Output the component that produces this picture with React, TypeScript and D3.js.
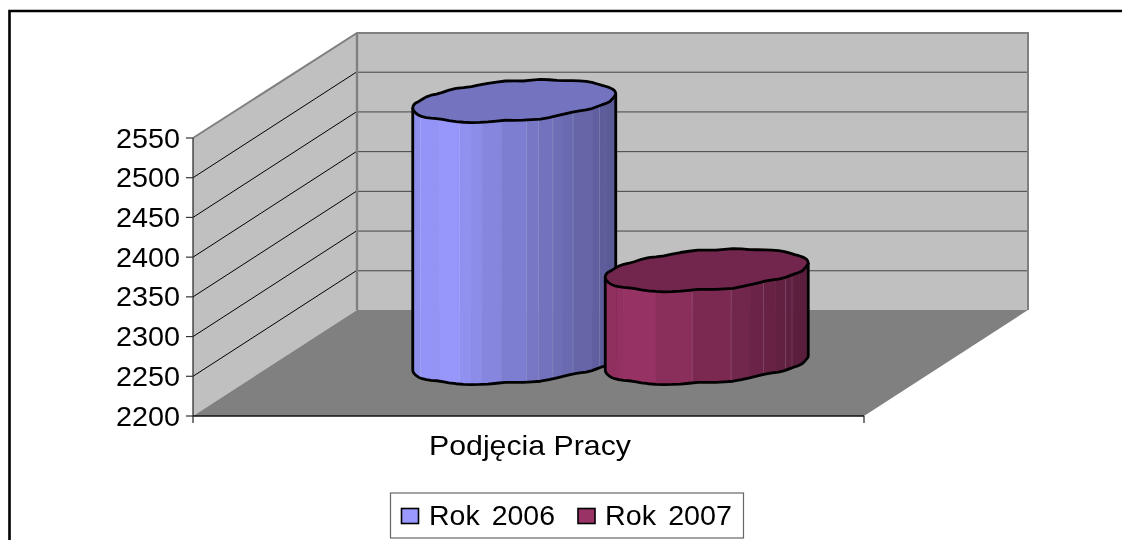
import React from "react";
import * as d3 from "d3";

const categories = ["Podjęcia Pracy"];
const seriesNames = ["Rok 2006", "Rok 2007"];
const seriesValues = [2530, 2317];
const seriesColors = ["#9999FF", "#993366"];
const yTicks = [2200, 2250, 2300, 2350, 2400, 2450, 2500, 2550];
const facetStops = [
  [0, 0.038, 0.13, 0.23, 0.29, 0.345, 0.44, 0.56, 0.62, 0.69, 0.74, 0.79, 0.886, 0.92, 0.955, 1],
  [0, 0.056, 0.089, 0.127, 0.25, 0.428, 0.62, 0.71, 0.78, 0.84, 0.888, 0.92, 0.955, 1],
];
// small irregularities of the rim outline, in px, along the sweep from left to right
const lowerRimNudge = [0, 0.4, 1.2, 0.6, -0.6, 0.4, 0.9, 0.2, -1.0, 0.2, 1.0, -0.4, -1.2, 0.4, -0.2, 0.8, -0.8, 0];
const upperRimNudge = [0, -0.2, 0.8, -0.4, 0.8, -0.5, 0.9, -0.2, -0.8, 0.5, -0.6, 0.6, -0.2, -0.7, 0.6, 0.2, -0.3, 0];
const seamStops = [0.038, 0.23, 0.56, 0.69, 0.79, 0.92, 0.428, 0.62, 0.78, 0.888];

const W = 1122, H = 540;
const front = { left: 193, right: 864, bottom: 416, top: 138 };
const depth = { dx: 164, dy: 106 };
const rim = { halfW: 101.5, b: 19.8, shear: 7 };

const y = d3.scaleLinear().domain([2200, 2550]).range([front.bottom, front.top]);
const xCat = d3.scaleBand().domain(categories).range([front.left + depth.dx / 2, front.right + depth.dx / 2]);
const xSeries = d3.scalePoint().domain(seriesNames).range([
  xCat(categories[0])! + xCat.bandwidth() / 2 - 96.25,
  xCat(categories[0])! + xCat.bandwidth() / 2 + 96.25,
]);
const shade = d3.scaleLinear().domain([0, 0.15, 0.5, 1]).range([0.92, 1, 0.82, 0.58]);
const line = d3.line();

const nudgeScale = (arr: number[]) =>
  d3.scaleLinear().domain(arr.map((_, i) => i / (arr.length - 1))).range(arr);
const lowerNudge = nudgeScale(lowerRimNudge);
const upperNudge = nudgeScale(upperRimNudge);

const scaled = (c: string, k: number) => {
  const r = d3.rgb(c);
  return d3.rgb(r.r * k, r.g * k, r.b * k).formatHex();
};

function rimPoint(cx: number, cy: number, f: number, side: 1 | -1): [number, number] {
  const s = 2 * Math.sqrt(Math.max(0, f * (1 - f)));
  const sweep = Math.acos(1 - 2 * f) / Math.PI;
  const n = side === 1 ? lowerNudge(sweep) : upperNudge(sweep);
  return [cx - rim.halfW + 2 * rim.halfW * f, cy + rim.shear * (1 - 2 * f) + side * rim.b * s + n];
}

const sweepFs = d3.range(0, 37).map((i) => (1 - Math.cos((i / 36) * Math.PI)) / 2);

function Cylinder({ name, value, color, stops }: { name: string; value: number; color: string; stops: number[] }) {
  const cx = xSeries(name)!;
  const bot = y(2200) - depth.dy / 2;
  const top = y(value) - depth.dy / 2;
  const strips = stops.slice(0, -1).map((f, i) => {
    const g = stops[i + 1];
    const fs = d3.range(0, 7).map((k) => f + ((g - f) * k) / 6);
    const pts: [number, number][] = [
      ...fs.map((v) => rimPoint(cx, top, v, 1)),
      ...fs.slice().reverse().map((v) => rimPoint(cx, bot, v, 1)),
    ];
    return { d: line(pts)! + "Z", fill: scaled(color, shade((f + g) / 2)) };
  });
  const lowBot = sweepFs.map((f) => rimPoint(cx, bot, f, 1));
  const lowTop = sweepFs.map((f) => rimPoint(cx, top, f, 1));
  const upper = sweepFs.map((f) => rimPoint(cx, top, f, -1));
  const outline = line([lowTop[0], ...lowBot, lowTop[lowTop.length - 1]])!;
  const cap = line([...lowTop, ...upper.slice(1, -1).reverse()])! + "Z";
  return (
    <g>
      {strips.map((s, i) => (
        <path key={i} d={s.d} fill={s.fill} stroke={s.fill} strokeWidth={0.6} />
      ))}
      {stops.map((f, i) => {
        if (!seamStops.includes(f)) return null;
        const a = rimPoint(cx, top, f, 1), b = rimPoint(cx, bot, f, 1);
        return <line key={i} x1={a[0]} x2={b[0]} y1={a[1]} y2={b[1]} stroke="#ffffff" strokeOpacity={0.18} strokeWidth={0.8} />;
      })}
      <path d={outline} fill="none" stroke="#000" strokeWidth={2.8} strokeLinejoin="round" />
      <path d={cap} fill={scaled(color, 0.75)} stroke="#000" strokeWidth={2.8} strokeLinejoin="round" />
    </g>
  );
}

const FONT = "'Liberation Sans', Arial, sans-serif";

export default function App() {
  const bL = front.left + depth.dx, bR = front.right + depth.dx;
  const bBot = front.bottom - depth.dy, bTop = front.top - depth.dy + 1;
  return (
    <svg width={W} height={H} viewBox={`0 0 ${W} ${H}`} style={{ position: "absolute", left: 0, top: 0, display: "block", background: "#fff" }}>
      <g style={{ filter: "blur(0.35px)" }}>
        {/* chart frame */}
        <path d={`M9.5,${H + 5} V11 H${W + 5}`} fill="none" stroke="#000" strokeWidth={2.6} />
        {/* walls */}
        <polygon points={`${bL},${bTop} ${bR},${bTop} ${bR},${bBot} ${bL},${bBot}`} fill="#C0C0C0" />
        <polygon points={`${front.left},${front.top} ${bL},${bTop} ${bL},${bBot} ${front.left},${front.bottom}`} fill="#C0C0C0" />
        {yTicks.slice(1, -1).map((t) => (
          <g key={t}>
            <line x1={front.left} y1={y(t)} x2={bL} y2={y(t) - depth.dy} stroke="#000" strokeWidth={1} />
            <line x1={bL} y1={y(t) - depth.dy + 0.5} x2={bR} y2={y(t) - depth.dy + 0.5} stroke="#444" strokeWidth={1} />
          </g>
        ))}
        {/* floor */}
        <polygon points={`${front.left},${front.bottom} ${front.right},${front.bottom} ${bR},${bBot} ${bL},${bBot}`} fill="#808080" />
        {/* wall edges */}
        <path d={`M${front.left},${front.top} L${bL},${bTop} H${bR} V${bBot}`} fill="none" stroke="#808080" strokeWidth={2} />
        <line x1={bL} y1={bTop} x2={bL} y2={bBot} stroke="#808080" strokeWidth={2.4} />
        {/* axes */}
        <line x1={front.left} y1={front.top} x2={front.left} y2={front.bottom + 7} stroke="#222" strokeWidth={1.2} />
        <line x1={front.left} y1={front.bottom} x2={front.right} y2={front.bottom} stroke="#111" strokeWidth={1.4} />
        <line x1={front.right} y1={front.bottom} x2={front.right} y2={front.bottom + 7} stroke="#222" strokeWidth={1.2} />
        {yTicks.map((t) => (
          <g key={t}>
            <line x1={front.left - 7} x2={front.left} y1={y(t)} y2={y(t)} stroke="#333" strokeWidth={1.2} />
            <text x={116} y={y(t) + 9.5} fontFamily={FONT} fontSize={27.5} textLength={64} lengthAdjust="spacingAndGlyphs" fill="#000">
              {t}
            </text>
          </g>
        ))}
        {/* bars */}
        {seriesNames.map((n, i) => (
          <Cylinder key={n} name={n} value={seriesValues[i]} color={seriesColors[i]} stops={facetStops[i]} />
        ))}
        {/* category */}
        <text x={429} y={455} fontFamily={FONT} fontSize={27.5} textLength={202} lengthAdjust="spacingAndGlyphs" fill="#000">
          {categories[0]}
        </text>
        {/* legend */}
        <rect x={390.5} y={493} width={353} height={45} fill="#fff" stroke="#666" strokeWidth={1.2} />
        {seriesNames.map((n, i) => (
          <g key={n}>
            <rect x={[401.5, 578][i]} y={508.5} width={17} height={15} fill={seriesColors[i]} stroke="#000" strokeWidth={1.6} />
            <text x={[429, 605][i]} y={524.5} fontFamily={FONT} fontSize={27.5} wordSpacing={4} textLength={[126, 127][i]} lengthAdjust="spacingAndGlyphs" fill="#000">
              {n}
            </text>
          </g>
        ))}
      </g>
    </svg>
  );
}
